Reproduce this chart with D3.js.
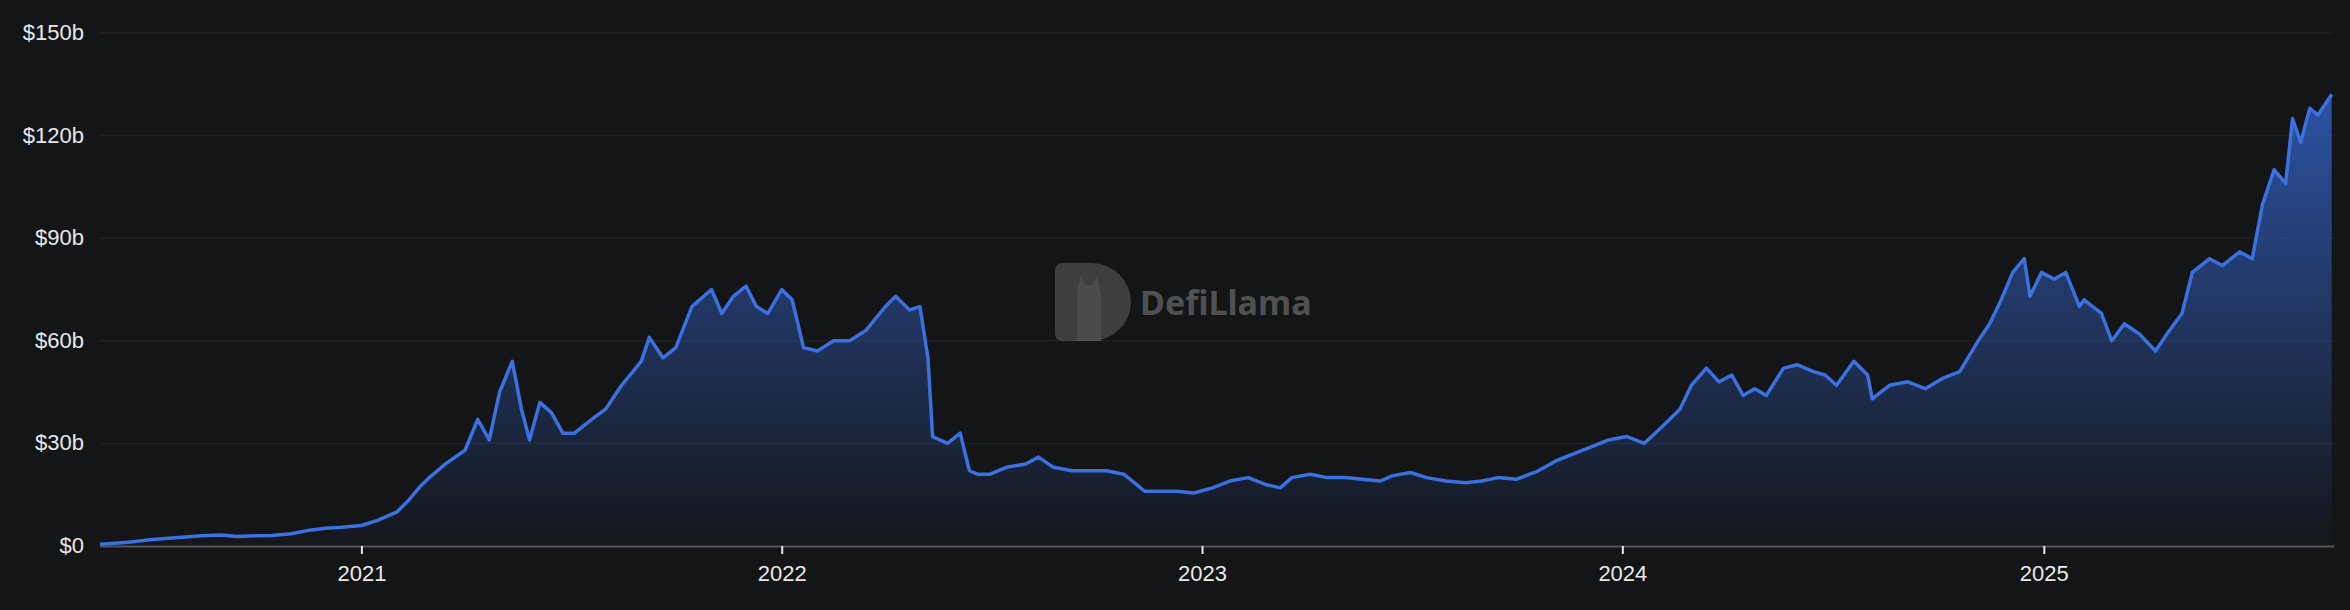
<!DOCTYPE html>
<html><head><meta charset="utf-8">
<script src="https://cdn.jsdelivr.net/npm/d3@7"></script>
<style>html,body{margin:0;background:#141517;}svg{display:block}</style>
</head><body><svg id="c" width="2350" height="610"></svg>
<script>
const dates = ["2020-05-19","2020-06-01","2020-06-15","2020-07-01","2020-07-15","2020-08-01","2020-08-15","2020-09-01","2020-09-15","2020-10-01","2020-10-15","2020-11-01","2020-11-15","2020-12-01","2020-12-15",
"2021-01-01","2021-01-15","2021-02-01","2021-02-10","2021-02-20","2021-03-01","2021-03-15","2021-04-01","2021-04-12","2021-04-22","2021-05-01","2021-05-12","2021-05-20","2021-05-27","2021-06-05","2021-06-15","2021-06-25","2021-07-05","2021-07-20","2021-08-01","2021-08-15","2021-09-01","2021-09-08","2021-09-20","2021-10-01","2021-10-15","2021-11-01","2021-11-10","2021-11-20","2021-12-01","2021-12-10","2021-12-20",
"2022-01-01","2022-01-10","2022-01-20","2022-02-01","2022-02-15","2022-03-01","2022-03-15","2022-04-01","2022-04-10","2022-04-22","2022-05-01","2022-05-08","2022-05-12","2022-05-25","2022-06-05","2022-06-13","2022-06-20","2022-07-01","2022-07-15","2022-08-01","2022-08-12","2022-08-25","2022-09-10","2022-09-25","2022-10-10","2022-10-25","2022-11-05","2022-11-12","2022-11-25","2022-12-10","2022-12-25",
"2023-01-10","2023-01-25","2023-02-10","2023-02-25","2023-03-10","2023-03-20","2023-04-05","2023-04-20","2023-05-05","2023-05-20","2023-06-05","2023-06-15","2023-07-01","2023-07-15","2023-08-01","2023-08-18","2023-09-01","2023-09-15","2023-10-01","2023-10-20","2023-11-05","2023-11-20","2023-12-05","2023-12-20",
"2024-01-05","2024-01-20","2024-02-05","2024-02-20","2024-03-01","2024-03-14","2024-03-25","2024-04-05","2024-04-15","2024-04-25","2024-05-05","2024-05-20","2024-06-01","2024-06-15","2024-06-25","2024-07-05","2024-07-20","2024-08-01","2024-08-05","2024-08-20","2024-09-05","2024-09-20","2024-10-05","2024-10-20","2024-11-05","2024-11-15","2024-11-25","2024-12-05","2024-12-15","2024-12-20","2024-12-30",
"2025-01-10","2025-01-20","2025-02-01","2025-02-05","2025-02-20","2025-03-01","2025-03-12","2025-03-25","2025-04-08","2025-04-20","2025-05-01","2025-05-10","2025-05-25","2025-06-05","2025-06-20","2025-07-01","2025-07-10","2025-07-20","2025-07-30","2025-08-05","2025-08-12","2025-08-20","2025-08-27","2025-09-08"];
const tvl = [0.5,0.8,1.2,1.8,2.2,2.6,3.0,3.2,2.8,3.0,3.1,3.6,4.5,5.2,5.5,
6,7.5,10,13,17,20,24,28,37,31,45,54,40,31,42,39,33,33,37,40,47,54,61,55,58,70,75,68,73,76,70,68,
75,72,58,57,60,60,63,70,73,69,70,55,32,30,33,22,21,21,23,24,26,23,22,22,22,21,18,16,16,16,15.5,
17,19,20,18,17,20,21,20,20,19.5,19,20.5,21.5,20,19,18.5,19,20,19.5,22,25,27,29,31,
32,30,35,40,47,52,48,50,44,46,44,52,53,51,50,47,54,50,43,47,48,46,49,51,60,65,72,80,84,73,80,
78,80,70,72,68,60,65,62,57,63,68,80,84,82,86,84,100,110,106,125,118,128,126,132];

const W=2350,H=610,m={l:100,r:16,t:33,b:64};
const svg=d3.select("#c");
const parse=d3.timeParse("%Y-%m-%d");
const data=dates.map((d,i)=>({d:parse(d),v:tvl[i]}));
const x=d3.scaleTime().domain([parse("2020-05-19"),parse("2025-09-10")]).range([m.l,W-m.r]);
const y=d3.scaleLinear().domain([0,150]).range([H-m.b,m.t]);
const yt=[0,30,60,90,120,150];
svg.append("rect").attr("width",W).attr("height",H).attr("fill","#141517");
const defs=svg.append("defs");
const g=defs.append("linearGradient").attr("id","gr").attr("x1",0).attr("x2",0)
 .attr("gradientUnits","userSpaceOnUse").attr("y1",y(132)).attr("y2",y(0));
g.append("stop").attr("offset",0).attr("stop-color","#3467d1").attr("stop-opacity",0.75);
g.append("stop").attr("offset",1).attr("stop-color","#3467d1").attr("stop-opacity",0.02);
svg.append("g").selectAll("line").data(yt.slice(1)).join("line")
 .attr("x1",m.l).attr("x2",W-m.r).attr("y1",d=>y(d)).attr("y2",d=>y(d)).attr("stroke","#1f2023").attr("stroke-width",1.5);
svg.append("g").selectAll("text").data(yt).join("text")
 .attr("x",84).attr("y",d=>y(d)+7).attr("text-anchor","end").attr("fill","#e8e8e8")
 .attr("font-family","Liberation Sans, Arial, sans-serif").attr("font-size",22).text(d=>"$"+(d?d+"b":"0"));
// watermark
const wm=svg.append("g").attr("transform","translate(1055,263)").attr("opacity",0.35);
wm.append("path").attr("d","M0,8 Q0,0 8,0 L36,0 A40,39 0 0 1 36,78 L8,78 Q0,78 0,70 Z").attr("fill","#8a8a8a");
wm.append("path").attr("d","M22,78 L22,30 L26,12 L30,22 L38,22 L42,12 L46,30 L46,78 Z").attr("fill","#b0b0b0");
wm.append("text").attr("x",85).attr("y",52).attr("fill","#bdbdbd").attr("font-family","Noto Sans, sans-serif")
 .attr("font-weight","bold").attr("font-size",34).text("DefiLlama");
svg.append("path").datum(data).attr("fill","url(#gr)")
 .attr("d",d3.area().x(d=>x(d.d)).y0(y(0)).y1(d=>y(d.v)));
svg.append("path").datum(data).attr("fill","none").attr("stroke","#3a70df").attr("stroke-width",3.5).attr("stroke-linejoin","round")
 .attr("d",d3.line().x(d=>x(d.d)).y(d=>y(d.v)));
const xa=svg.append("g").attr("transform",`translate(0,${y(0)})`)
 .call(d3.axisBottom(x).ticks(d3.timeYear.every(1)).tickFormat(d3.timeFormat("%Y")).tickSize(8).tickSizeOuter(0));
xa.select(".domain").attr("stroke","#555").attr("stroke-width",2);
xa.selectAll(".tick line").attr("stroke","#e8e8e8").attr("stroke-width",2);
xa.selectAll("text").attr("fill","#e8e8e8").attr("font-size",22).attr("font-family","Liberation Sans, Arial, sans-serif").attr("dy","1.1em");
</script></body></html>
